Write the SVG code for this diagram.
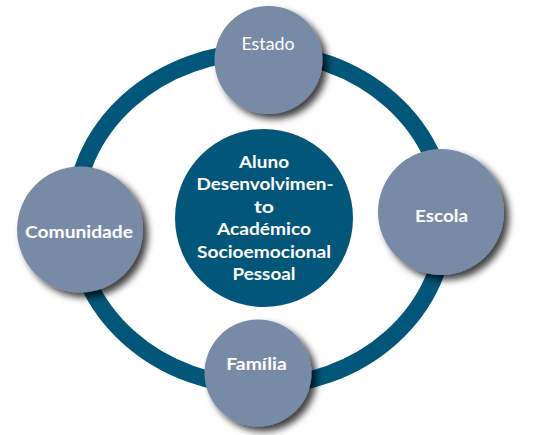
<svg xmlns="http://www.w3.org/2000/svg" width="537" height="435" viewBox="0 0 537 435">
  <defs>
    <filter id="shadow" x="-30%" y="-30%" width="170%" height="170%">
      <feDropShadow dx="5" dy="5" stdDeviation="3.5" flood-color="#000" flood-opacity="0.75"/>
    </filter>
    <style>
      .node { fill: #788BA6; filter: url(#shadow); }
      .ring { fill: none; stroke: #02567A; stroke-width: 17; }
      .core { fill: #02567A; }
      .lbl { font-family: Lato, "Open Sans", "Liberation Sans", sans-serif; font-size: 17.5px; fill: #fff; text-anchor: middle; }
      .b { font-weight: bold; }
    </style>
  </defs>
  <rect width="537" height="435" fill="#fff"/>
  <g id="connectors">
    <ellipse class="ring" cx="260" cy="219" rx="186" ry="167"/>
  </g>
  <g id="aluno">
    <circle class="core" cx="264" cy="218" r="89"/>
    <text class="lbl b" x="264" y="167.5" textLength="50" lengthAdjust="spacingAndGlyphs">Aluno</text>
    <text class="lbl b" x="265" y="190" textLength="137" lengthAdjust="spacingAndGlyphs">Desenvolvimen-</text>
    <text class="lbl b" x="264" y="212.5" textLength="20" lengthAdjust="spacingAndGlyphs">to</text>
    <text class="lbl b" x="264" y="235" textLength="94" lengthAdjust="spacingAndGlyphs">Académico</text>
    <text class="lbl b" x="264" y="257.5" textLength="134" lengthAdjust="spacingAndGlyphs">Socioemocional</text>
    <text class="lbl b" x="264" y="280" textLength="63" lengthAdjust="spacingAndGlyphs">Pessoal</text>
  </g>
  <g id="estado">
    <circle class="node" cx="268.5" cy="60" r="54"/>
    <text class="lbl" x="268" y="49.5" textLength="53" lengthAdjust="spacingAndGlyphs">Estado</text>
  </g>
  <g id="comunidade">
    <circle class="node" cx="80" cy="229.5" r="63"/>
    <text class="lbl b" x="79" y="237.5" textLength="108" lengthAdjust="spacingAndGlyphs">Comunidade</text>
  </g>
  <g id="escola">
    <circle class="node" cx="441" cy="212" r="63"/>
    <text class="lbl b" x="441.5" y="221.5" textLength="53" lengthAdjust="spacingAndGlyphs">Escola</text>
  </g>
  <g id="familia">
    <circle class="node" cx="258" cy="373" r="53.5"/>
    <text class="lbl b" x="256.5" y="370" textLength="60.5" lengthAdjust="spacingAndGlyphs">Família</text>
  </g>
</svg>
